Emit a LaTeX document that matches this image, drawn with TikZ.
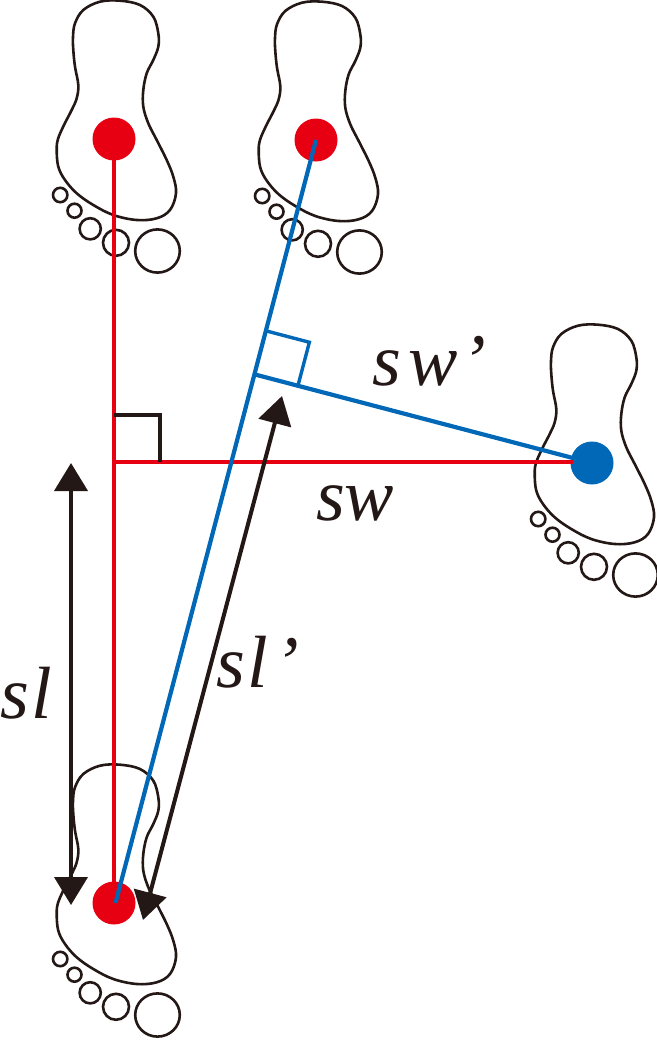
\documentclass[tikz,border=0pt]{standalone}
\usepackage{fontspec}
\setmainfont{Liberation Serif}
\newfontfamily\labfont{Liberation Serif Italic}
\usetikzlibrary{arrows.meta,calc}
\definecolor{fred}{HTML}{E60012}
\definecolor{fblue}{HTML}{0068B7}
\definecolor{fblack}{HTML}{231815}
\tikzset{
  outline/.style={draw=fblack, line width=2.6pt},
  footprint/.pic={
    \draw[outline] plot[smooth cycle, tension=0.6] coordinates {
      (-40.7,-89) (-39,-72.3) (-35.7,-54) (-37.3,-40.7) (-42.3,-29) (-50,-14)
      (-56,0) (-57.3,11) (-55.7,27.7) (-49,41) (-37.3,54.3) (-20.7,66) (-0.7,76)
      (22.7,81) (42.7,79.3) (56,71) (62,54.3) (59.3,37.7) (52.7,21) (42.7,1)
      (34.3,-15.7) (29.3,-32.3) (29.3,-49) (32.7,-65.7) (39.3,-79) (44.3,-92.3)
      (44.3,-105.7) (39.3,-122.3) (26,-134) (6,-138.3) (-14,-137.3) (-30.7,-129)
      (-39,-115.7) (-41,-102)};
    \draw[outline] (-53.8,56) circle[radius=7.2pt];
    \draw[outline] (-39.5,71.7) circle[radius=7pt];
    \draw[outline] (-23.8,89.8) circle[radius=10.6pt];
    \draw[outline] (2,103.8) circle[radius=13pt];
    \draw[outline] (43.5,112) ellipse[x radius=22.3pt, y radius=21.6pt];
  },
  dot/.style={circle, inner sep=0pt, minimum size=43pt},
  redline/.style={draw=fred, line width=4.2pt},
  blueline/.style={draw=fblue, line width=4.2pt},
  bluesq/.style={draw=fblue, line width=3.4pt},
  blacksq/.style={draw=fblack, line width=3.6pt},
  dimarrow/.style={draw=fblack, line width=4pt,
    {Triangle[length=28pt,width=33pt]}-{Triangle[length=28pt,width=33pt]}},
  lab/.style={anchor=base west, inner sep=0pt, text=fblack,
    font=\labfont\fontsize{74}{74}\selectfont},
}
\begin{document}
\begin{tikzpicture}[x=1pt,y=-1pt]
\useasboundingbox (0,0) rectangle (656,1041);
% footprints
\pic at (114,139) {footprint};
\pic at (316,140) {footprint};
\pic at (114,903) {footprint};
\begin{scope}[shift={(592,463)},xscale=-1]
  \pic at (0,0) {footprint};
\end{scope}
% dots
\node[dot, fill=fred] (ltop) at (114,139) {};
\node[dot, fill=fred] (rtop) at (316,140) {};
\node[dot, fill=fred] (lbot) at (114,903) {};
\node[dot, fill=fblue] (rmid) at (592,463) {};
% red lines
\coordinate (C) at (114,462);
\coordinate (R) at (573,462);
\draw[redline] (ltop.center) -- (lbot.center);
\draw[redline] (C) -- (R);
\draw[blacksq] ($(C)+(0,-47)$) -- ($(C)+(46,-47)$) -- ($(C)+(46,0)$);
% blue lines
\coordinate (B0) at ($(lbot.center)+(1.5,0)$);
\draw[blueline] (rtop.center) -- (B0);
\coordinate (F) at ($(B0)!(rmid.center)!(rtop.center)$);
\draw[blueline] (F) -- (rmid.center);
\coordinate (F1) at ($(F)!45pt!(rtop.center)$);
\coordinate (F2) at ($(F)!45pt!(rmid.center)$);
\draw[bluesq] (F1) -- ($(F1)+(F2)-(F)$) -- (F2);
% dimension arrows
\coordinate (a1) at (71,463);
\coordinate (a2) at (71,905);
\draw[dimarrow] (a1) -- (a2);
\coordinate (b1) at (282,396);
\coordinate (b2) at (143,920);
\draw[dimarrow] (b1) -- (b2);
% labels
\node[lab] (swp) at (372,385) {s\kern8pt w\kern3pt’};
\node[lab] (sw) at (316,520) {sw};
\node[lab] (sl) at (0,718) {s\kern3pt l};
\node[lab] (slp) at (216,687) {s\kern3pt l\kern6pt’};
\end{tikzpicture}
\end{document}
